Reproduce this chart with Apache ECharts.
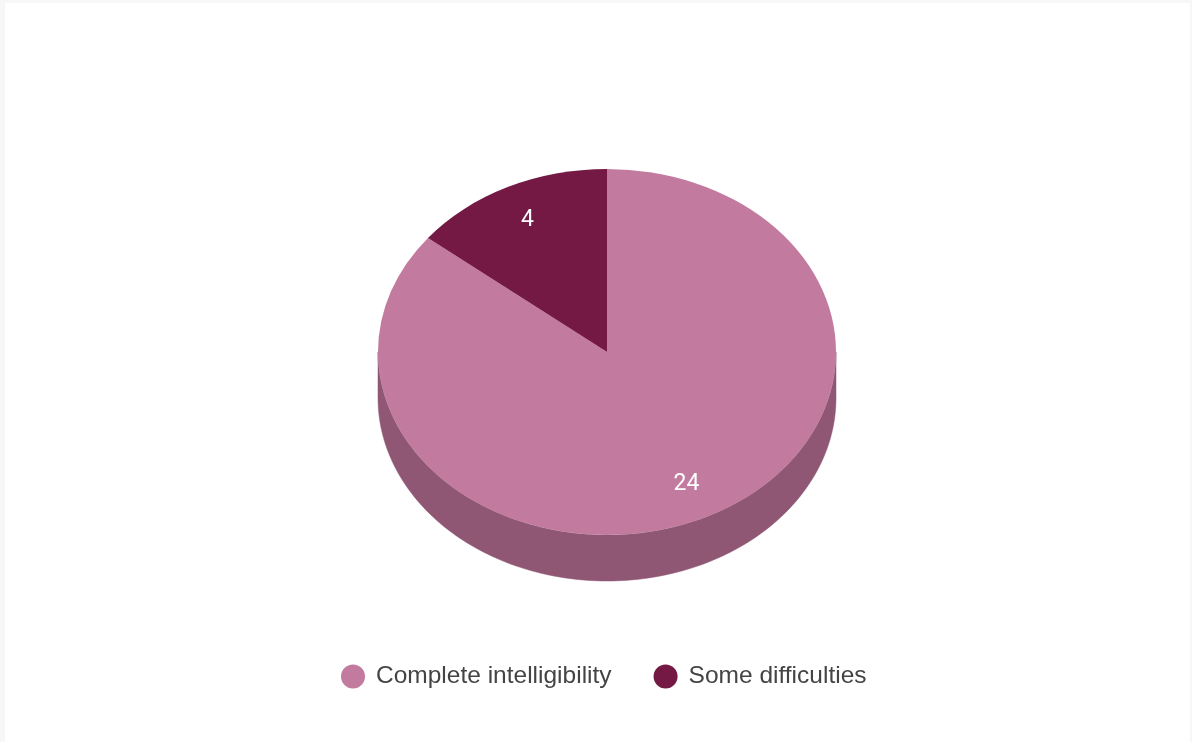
<!DOCTYPE html>
<html>
<head>
<meta charset="utf-8">
<script src="https://cdn.jsdelivr.net/npm/echarts@6/dist/echarts.min.js"></script>
<style>
  html, body { margin: 0; padding: 0; background: #f7f7f7; }
  #wrap { position: absolute; left: 5px; top: 3px; width: 1185px; height: 739px; background: #ffffff; }
  #chart { width: 1185px; height: 739px; }
</style>
</head>
<body>
<div id="wrap"><div id="chart"></div></div>
<script>
const categories = ['Complete intelligibility', 'Some difficulties'];
const values = [24, 4];
const colors = ['#c27a9f', '#741943'];
const sideColors = ['#8f5774', '#561232'];

const chart = echarts.init(document.getElementById('chart'));
const total = values.reduce((a, b) => a + b, 0);

// geometry (container is offset by 5,3 from page)
const CX = 602, CY = 349, RX = 229, RY = 183, DEPTH = 46;

function sliceAngles(i) {
  let cum = 0;
  for (let k = 0; k < i; k++) cum += values[k];
  const s = -Math.PI / 2 + 2 * Math.PI * cum / total;
  const e = -Math.PI / 2 + 2 * Math.PI * (cum + values[i]) / total;
  return [s, e];
}

function sideRender(i) {
  return function (params, api) {
    const [s, e] = sliceAngles(i);
    const lo = Math.max(s, 0), hi = Math.min(e, Math.PI);
    if (hi <= lo) return { type: 'group', children: [] };
    const pts = [];
    const n = 120;
    for (let k = 0; k <= n; k++) {
      const a = lo + (hi - lo) * k / n;
      pts.push([CX + RX * Math.cos(a), CY + RY * Math.sin(a)]);
    }
    for (let k = n; k >= 0; k--) {
      const a = lo + (hi - lo) * k / n;
      pts.push([CX + RX * Math.cos(a), CY + DEPTH + RY * Math.sin(a)]);
    }
    return {
      type: 'polygon',
      shape: { points: pts },
      style: { fill: sideColors[i], stroke: sideColors[i], lineWidth: 0.5 }
    };
  };
}

function topRender(i) {
  return function (params, api) {
    const [s, e] = sliceAngles(i);
    const mid = (s + e) / 2;
    const lr = 0.8 * RX;
    return {
      type: 'group',
      children: [
        {
          type: 'sector',
          shape: { cx: CX, cy: CY, r: RX, r0: 0, startAngle: s, endAngle: e, clockwise: true },
          originX: CX, originY: CY, scaleX: 1, scaleY: RY / RX,
          style: { fill: colors[i] }
        },
        {
          type: 'text',
          x: CX + lr * Math.cos(mid),
          y: CY + lr * Math.sin(mid) * RY / RX,
          style: {
            text: String(api.value(0)),
            fill: '#ffffff',
            font: '23px Roboto, sans-serif',
            align: 'center',
            verticalAlign: 'middle'
          }
        }
      ]
    };
  };
}

const series = [];
categories.forEach((name, i) => {
  series.push({
    type: 'custom', name: name, coordinateSystem: 'none', z: 3,
    itemStyle: { color: colors[i] },
    renderItem: topRender(i),
    data: [[values[i]]],
    silent: true
  });
});
categories.forEach((name, i) => {
  series.push({
    type: 'custom', name: name, coordinateSystem: 'none', z: 2,
    itemStyle: { color: colors[i] },
    renderItem: sideRender(i),
    data: [[values[i]]],
    silent: true
  });
});

chart.setOption({
  animation: false,
  backgroundColor: '#ffffff',
  legend: {
    data: categories.map((n, i) => ({ name: n, itemStyle: { color: colors[i] } })),
    icon: 'circle',
    itemWidth: 24,
    itemHeight: 24,
    itemGap: 42,
    top: 656,
    left: 331,
    textStyle: { color: '#444444', fontSize: 24.5, fontFamily: '"Liberation Sans", Arial, sans-serif', padding: [0, 0, 0, 6] }
  },
  series: series
});
</script>
</body>
</html>
